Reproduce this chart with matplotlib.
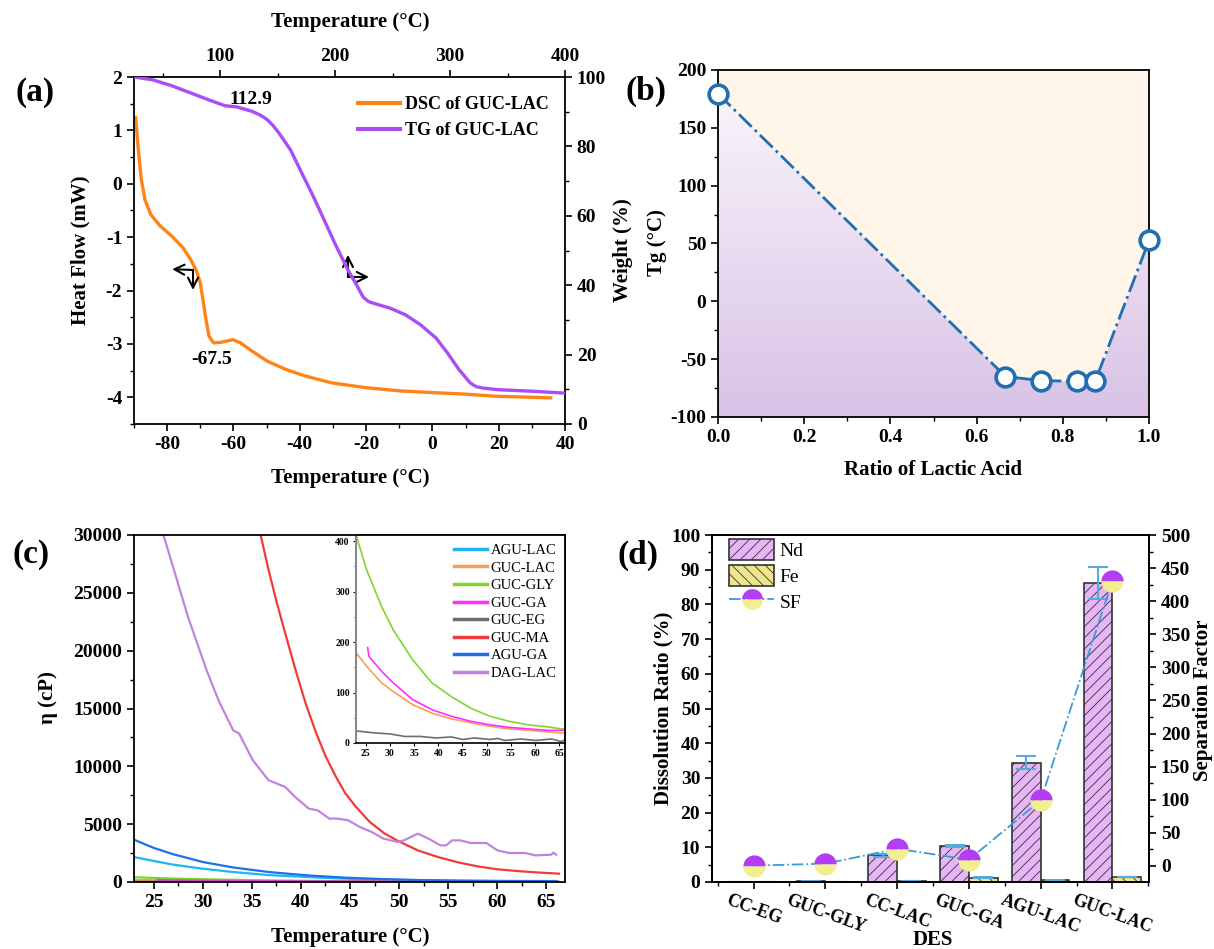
import numpy as np
import matplotlib
matplotlib.use("Agg")
import matplotlib.pyplot as plt
from matplotlib.colors import LinearSegmentedColormap
from matplotlib.lines import Line2D
from matplotlib.patches import Patch
from matplotlib.ticker import MultipleLocator

# ---- data (a) DSC / TG of GUC-LAC ----
dsc_t = [-89.5, -88.7, -87.8, -86.7, -84.9, -82.1, -78.6, -75.2, -72.9, -71.1, -70.0, -69.2,
         -68.3, -67.4, -66.0, -63.7, -60.2, -57.9, -54.5, -49.9, -44.1, -38.4, -30.3, -20.0,
         -9.7, -0.5, 9.9, 19.1, 35.7]
dsc_hf = [1.24, 0.64, 0.08, -0.30, -0.58, -0.79, -0.98, -1.20, -1.42, -1.64, -1.86, -2.17,
          -2.54, -2.85, -2.98, -2.97, -2.92, -2.98, -3.13, -3.32, -3.48, -3.60, -3.73, -3.82,
          -3.88, -3.91, -3.94, -3.98, -4.01]
tg_t = [25, 41, 57.7, 74.3, 91, 104.3, 114.3, 127.7, 135, 141, 146, 151, 161, 171, 181, 191,
        201, 211, 219.3, 224.3, 229, 234.3, 247.7, 261, 274.3, 287.7, 297.7, 307.7, 317.7,
        322.5, 327.7, 341, 374.3, 400]
tg_w = [100, 99.2, 97.5, 95.4, 93.3, 91.7, 91.4, 90.1, 89.0, 87.7, 86.0, 83.9, 79.1, 72.3,
        65.6, 58.4, 51.2, 44.5, 39.7, 36.6, 35.3, 34.7, 33.4, 31.5, 28.6, 24.8, 20.5, 15.7,
        11.8, 10.8, 10.4, 9.9, 9.4, 8.9]

# ---- data (b) Tg vs ratio of lactic acid ----
ratio = [0.0, 0.667, 0.75, 0.833, 0.875, 1.0]
tg_vals = [179.5, -65, -68.5, -69.2, -69.2, 52.6]

# ---- data (c) viscosity ----
agu_lac_t = [23, 25, 27, 30, 33, 36.7, 40.6, 44.5, 48.4, 52, 56.2, 60, 66]
agu_lac_v = [2160, 1820, 1500, 1150, 870, 600, 430, 290, 200, 150, 110, 80, 60]
agu_ga_t = [23, 25, 27, 30, 33, 36.7, 40.6, 44.5, 48.4, 52, 56.2, 60, 66]
agu_ga_v = [3660, 2950, 2400, 1730, 1270, 865, 577, 375, 250, 170, 115, 95, 80]
guc_ma_t = [35.9, 36.7, 37.5, 38.5, 39.5, 40.5, 41.5, 42.5, 43.5, 44.5, 45.5, 47, 48.5, 50,
            52, 54, 56, 58, 60, 62, 64, 66.3]
guc_ma_v = [30000, 27000, 24300, 21200, 18200, 15400, 13000, 10900, 9200, 7700, 6600, 5200,
            4200, 3500, 2700, 2150, 1700, 1350, 1100, 950, 830, 720]
dag_lac_t = [26.0, 28.5, 30.4, 31.6, 33.1, 33.7, 35.1, 36.7, 38.4, 39.4, 40.8, 41.7, 42.9, 43.7,
             44.8, 46.0, 47.2, 48.4, 49.9, 50.5, 51.9, 53.0, 54.2, 54.8, 55.4, 56.2, 57.3, 58.9,
             60.0, 61.2, 62.8, 63.9, 65.5, 65.7, 66.0]
dag_lac_v = [30000, 22930, 18300, 15720, 13120, 12840, 10530, 8800, 8220, 7360, 6345, 6200, 5480,
             5480, 5340, 4760, 4330, 3750, 3460, 3600, 4180, 3750, 3170, 3170, 3600, 3600, 3370,
             3370, 2740, 2510, 2510, 2300, 2360, 2540, 2360]
guc_gly_t = [23.0, 25.2, 28.3, 30.7, 34.7, 38.7, 42.7, 46.7, 50.7, 54.6, 58.6, 62.6, 65.4, 66.2]
guc_gly_v = [412, 343, 270, 224, 165, 119, 92, 69, 53, 43, 36, 32, 28, 27]
guc_lac_t = [23.0, 25.2, 28.3, 30.7, 34.7, 38.7, 42.7, 46.7, 50.7, 54.6, 58.6, 62.6, 65.4, 66.2]
guc_lac_v = [179, 152, 119, 102, 76, 59, 48, 40, 33, 28, 25, 22, 20, 20]
guc_ga_t = [25.4, 25.7, 28.3, 30.7, 34.7, 38.7, 42.7, 46.7, 50.7, 54.6, 58.6, 62.6, 65.4, 66.2]
guc_ga_v = [189, 171, 142, 119, 86, 66, 53, 43, 36, 31, 28, 25, 25, 25]
guc_eg_t = [23, 26.8, 30, 33.1, 36.3, 39.5, 42.7, 45.1, 47.5, 50.7, 52.3, 53.8, 57, 60.2, 63.4, 65.4, 66.2]
guc_eg_v = [24, 20, 18, 13, 13, 10, 12, 7, 10, 7, 9, 5, 8, 5, 8, 3, 6]

# ---- data (d) dissolution / separation factor ----
des = ["CC-EG", "GUC-GLY", "CC-LAC", "GUC-GA", "AGU-LAC", "GUC-LAC"]
nd = [0.05, 0.2, 7.7, 10.4, 34.4, 86.2]
nd_err = [0.05, 0.1, 0.4, 0.3, 1.9, 4.5]
fe = [0.05, 0.05, 0.3, 1.2, 0.5, 1.4]
fe_err = [0.0, 0.0, 0.1, 0.1, 0.1, 0.1]
sf = [0.5, 3.5, 26, 9.6, 99, 431]

plt.rcParams["font.family"] = ["Liberation Serif", "DejaVu Serif"]
plt.rcParams["font.weight"] = "bold"
plt.rcParams["axes.labelweight"] = "bold"
plt.rcParams["axes.linewidth"] = 1.3
plt.rcParams["axes.unicode_minus"] = False
plt.rcParams["hatch.linewidth"] = 0.6

W, H = 1214, 949
fig = plt.figure(figsize=(W / 100, H / 100), dpi=100)


def px_axes(l, t, r, b, **kw):
    return fig.add_axes([l / W, 1 - b / H, (r - l) / W, (b - t) / H], **kw)


def ftext(x, y, s, size=15, **kw):
    fig.text(x / W, 1 - y / H, s, ha="center", va="center", fontsize=size,
             fontweight="bold", **kw)


def ticks(ax, size=14):
    ax.tick_params(which="major", direction="out", length=5, width=1.2, labelsize=size)
    ax.tick_params(which="minor", direction="out", length=3, width=1.0)


# ================= (a) =================
ax_a = px_axes(134, 77, 565, 424)
ax_a.plot(dsc_t, dsc_hf, color="#FF8417", lw=2.4, label="DSC of GUC-LAC")
ax_a.set_xlim(-90, 40)
ax_a.set_ylim(-4.5, 2)
ax_a.xaxis.set_major_locator(MultipleLocator(20))
ax_a.xaxis.set_minor_locator(MultipleLocator(10))
ax_a.yaxis.set_major_locator(MultipleLocator(1))
ax_a.yaxis.set_minor_locator(MultipleLocator(0.5))
ticks(ax_a)

ax_a2 = px_axes(134, 77, 565, 424, frameon=False)
ax_a2.patch.set_visible(False)
ax_a2.plot(tg_t, tg_w, color="#A94DF5", lw=2.4, label="TG of GUC-LAC")
ax_a2.set_xlim(25, 400)
ax_a2.set_ylim(0, 100)
ax_a2.xaxis.tick_top()
ax_a2.yaxis.tick_right()
ax_a2.xaxis.set_major_locator(MultipleLocator(100))
ax_a2.xaxis.set_minor_locator(MultipleLocator(50))
ax_a2.yaxis.set_major_locator(MultipleLocator(20))
ax_a2.yaxis.set_minor_locator(MultipleLocator(10))
ticks(ax_a2)

ax_a2.text(127, 93.4, "112.9", ha="center", va="center", fontsize=14)
ax_a.text(-66.5, -3.30, "-67.5", ha="center", va="center", fontsize=14)

arrow = dict(arrowstyle="->", lw=1.5, color="black", mutation_scale=18, shrinkA=0, shrinkB=0)
ax_a.annotate("", xy=(-78.5, -1.60), xytext=(-72.2, -1.615), arrowprops=arrow)
ax_a.annotate("", xy=(-72.2, -1.99), xytext=(-72.2, -1.615), arrowprops=arrow)
ax_a.annotate("", xy=(-25.46, -1.33), xytext=(-25.46, -1.746), arrowprops=arrow)
ax_a.annotate("", xy=(-19.1, -1.746), xytext=(-25.46, -1.746), arrowprops=arrow)

ha_lines = [Line2D([], [], color="#FF8417", lw=3), Line2D([], [], color="#A94DF5", lw=3)]
ax_a2.legend(ha_lines, ["DSC of GUC-LAC", "TG of GUC-LAC"], loc="upper left",
             bbox_to_anchor=(0.52, 0.945), frameon=False, borderaxespad=0, borderpad=0,
             handlelength=2.3, handletextpad=0.3, labelspacing=0.5,
             prop=dict(size=13, weight="bold"))

ftext(350, 22, "Temperature (°C)")
ftext(350, 478, "Temperature (°C)")
ftext(80, 250, "Heat Flow (mW)", rotation=90)
ftext(623, 250, "Weight (%)", rotation=90)
ftext(35, 93, "(a)", size=24)

# ================= (b) =================
ax_b = px_axes(718, 70, 1149, 417)
grad_cmap = LinearSegmentedColormap.from_list("lav", ["#D9C2E6", "#FBF8FC"])
ax_b.imshow(np.linspace(0, 1, 256).reshape(-1, 1), extent=[0, 1, -100, 200], origin="lower",
            aspect="auto", cmap=grad_cmap, zorder=0)
ax_b.fill_between(ratio, tg_vals, 200, color="#FFF6E9", lw=0, zorder=1)
ax_b.plot(ratio, tg_vals, ls="-.", color="#1F6FB2", lw=2, marker="o", ms=13.5,
          mfc="white", mec="#1F6FB2", mew=2.6, clip_on=False, zorder=3)
ax_b.set_xlim(0, 1)
ax_b.set_ylim(-100, 200)
ax_b.xaxis.set_major_locator(MultipleLocator(0.2))
ax_b.xaxis.set_minor_locator(MultipleLocator(0.1))
ax_b.yaxis.set_major_locator(MultipleLocator(50))
ax_b.yaxis.set_minor_locator(MultipleLocator(25))
ticks(ax_b)
ftext(657, 243, "Tg (°C)", rotation=90)
ftext(933, 470, "Ratio of Lactic Acid")
ftext(646, 91, "(b)", size=24)

# ================= (c) =================
series_c = [
    ("AGU-LAC", agu_lac_t, agu_lac_v, "#1CB8F2"),
    ("GUC-LAC", guc_lac_t, guc_lac_v, "#FA9E5C"),
    ("GUC-GLY", guc_gly_t, guc_gly_v, "#7FD62E"),
    ("GUC-GA", guc_ga_t, guc_ga_v, "#FF2EFF"),
    ("GUC-EG", guc_eg_t, guc_eg_v, "#6E6E6E"),
    ("GUC-MA", guc_ma_t, guc_ma_v, "#F23A3A"),
    ("AGU-GA", agu_ga_t, agu_ga_v, "#1E6FE8"),
    ("DAG-LAC", dag_lac_t, dag_lac_v, "#C283E0"),
]
ax_c = px_axes(134, 535, 565, 882)
for name, t, v, col in series_c:
    ax_c.plot(t, v, color=col, lw=1.6)
ax_c.set_xlim(23, 66.9)
ax_c.set_ylim(0, 30000)
ax_c.xaxis.set_major_locator(MultipleLocator(5))
ax_c.xaxis.set_minor_locator(MultipleLocator(2.5))
ax_c.yaxis.set_major_locator(MultipleLocator(5000))
ax_c.yaxis.set_minor_locator(MultipleLocator(2500))
ticks(ax_c)

ax_in = px_axes(356, 535, 565, 743)
for name, t, v, col in series_c:
    if name in ("GUC-LAC", "GUC-GLY", "GUC-GA", "GUC-EG"):
        ax_in.plot(t, v, color=col, lw=1.2)
ax_in.set_xlim(23, 66.2)
ax_in.set_ylim(0, 412)
ax_in.xaxis.set_major_locator(MultipleLocator(5))
ax_in.yaxis.set_major_locator(MultipleLocator(100))
ax_in.yaxis.set_minor_locator(MultipleLocator(50))
ax_in.tick_params(which="major", direction="out", length=2.5, width=0.8, labelsize=7, pad=2)
ax_in.tick_params(which="minor", direction="out", length=1.5, width=0.6)
ax_in.spines["left"].set_color("#888888")
ax_in.spines["left"].set_linewidth(1.5)
ax_in.spines["bottom"].set_linewidth(1.2)
leg_c = [Line2D([], [], color=col, lw=2.5) for _, _, _, col in series_c]
ax_in.legend(leg_c, [s[0] for s in series_c], loc="upper right", frameon=False,
             borderaxespad=0.2, handlelength=2.3, handletextpad=0.2, labelspacing=0.3,
             prop=dict(size=10.5, weight="normal"))

ftext(350, 937, "Temperature (°C)")
ftext(48, 698, "η (cP)", rotation=90)
ftext(31, 554, "(c)", size=24)

# ================= (d) =================
nd_col, fe_col, sf_line = "#E6B5F6", "#EEE68C", "#3C9AD8"
ax_d = px_axes(712, 535, 1149, 882)
x = np.arange(len(des))
err_kw = dict(ecolor="#5BA8DA", elinewidth=1.5, capsize=7.5, capthick=1.5)
ax_d.bar(x - 0.2, nd, 0.4, color=nd_col, edgecolor="#333333", lw=1.2, hatch="///",
         yerr=nd_err, error_kw=err_kw)
ax_d.bar(x + 0.2, fe, 0.4, color=fe_col, edgecolor="#333333", lw=1.2, hatch="\\\\\\",
         yerr=fe_err, error_kw=err_kw)
ax_d.set_xlim(-0.58, 5.51)
ax_d.set_ylim(0, 100)
ax_d.set_xticks(x)
ax_d.set_xticklabels(des, rotation=-20, fontsize=13)
ax_d.xaxis.set_minor_locator(MultipleLocator(0.5))
ax_d.yaxis.set_major_locator(MultipleLocator(10))
ax_d.yaxis.set_minor_locator(MultipleLocator(5))
ticks(ax_d)
ax_d.tick_params(axis="x", labelsize=13, pad=2)

ax_d2 = ax_d.twinx()
ax_d2.plot(x, sf, ls="-.", color=sf_line, lw=1.3, marker="o", ms=16, fillstyle="top",
           mfc="#B33DF5", mfcalt="#F3EF90", mew=0, zorder=5)
ax_d2.set_ylim(-24.2, 500)
ax_d2.yaxis.set_major_locator(MultipleLocator(50))
ax_d2.yaxis.set_minor_locator(MultipleLocator(25))
ticks(ax_d2)

leg_d = [Patch(facecolor=nd_col, edgecolor="#333333", hatch="///", lw=1.2),
         Patch(facecolor=fe_col, edgecolor="#333333", hatch="\\\\\\", lw=1.2),
         Line2D([], [], ls="-.", color=sf_line, lw=1.3, marker="o", ms=15, fillstyle="top",
                mfc="#B33DF5", mfcalt="#F3EF90", mew=0)]
ax_d2.legend(leg_d, ["Nd", "Fe", "SF"], loc="upper left", bbox_to_anchor=(0.035, 0.995),
             frameon=False, borderaxespad=0, borderpad=0.1, handlelength=2.3,
             handleheight=1.3, handletextpad=0.3, labelspacing=0.25,
             prop=dict(size=14, weight="normal"))

ftext(933, 940, "DES")
ftext(663, 708, "Dissolution Ratio (%)", rotation=90)
ftext(1203, 700, "Separation Factor", rotation=90)
ftext(638, 555, "(d)", size=24)

fig.savefig("out.png", dpi=100)
